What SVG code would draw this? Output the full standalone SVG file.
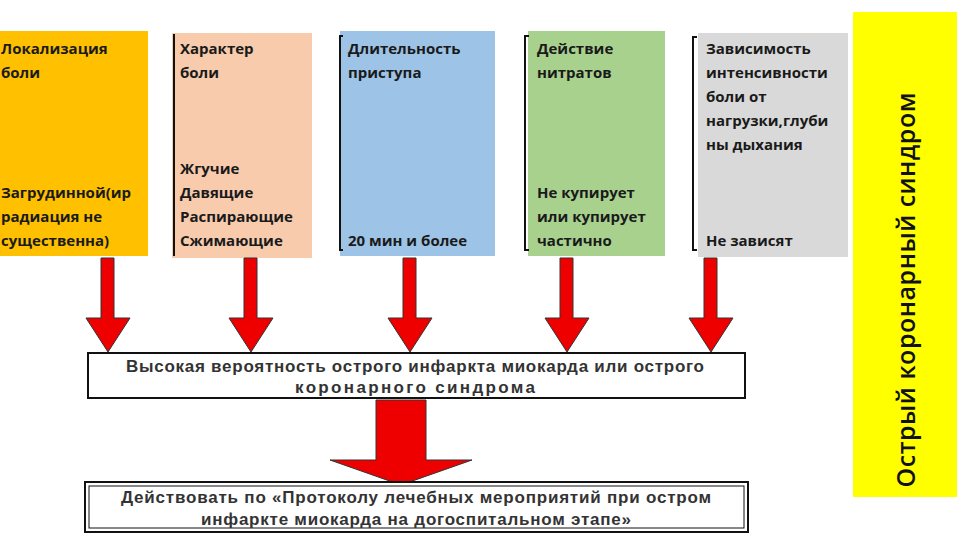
<svg xmlns="http://www.w3.org/2000/svg" width="960" height="540" viewBox="0 0 960 540">
<style>
.t{font-family:"Open Sans","Liberation Sans",sans-serif;font-weight:bold;font-size:15px;fill:#1a1a1a}
.b{font-family:"Liberation Sans",sans-serif;font-weight:bold;font-size:17px;fill:#333}
.br{fill:none;stroke:#111;stroke-width:2}
.ar{fill:#ee0000;stroke:#333;stroke-width:1}
</style>
<rect width="960" height="540" fill="#fff"/>
<g id="n1"><rect x="0" y="31" width="148" height="225" fill="#FFC000"/>
<text class="t"><tspan y="54" x="1">Локализация</tspan><tspan y="78" x="1">боли</tspan><tspan y="198" x="1">Загрудинной(ир</tspan><tspan y="222" x="1">радиация не</tspan><tspan y="246" x="1">существенна)</tspan></text></g>
<g id="n2"><rect x="172" y="33" width="140" height="225" fill="#F8CBAD"/><path class="br" d="M174 34V256"/>
<text class="t"><tspan y="54" x="180">Характер</tspan><tspan y="78" x="180">боли</tspan><tspan y="174" x="180">Жгучие</tspan><tspan y="198" x="180">Давящие</tspan><tspan y="222" x="180">Распирающие</tspan><tspan y="246" x="180">Сжимающие</tspan></text></g>
<g id="n3"><rect x="340" y="31" width="155" height="225" fill="#9DC3E6"/><path class="br" d="M343 36H340V250H343"/>
<text class="t"><tspan y="54" x="348">Длительность</tspan><tspan y="78" x="348">приступа</tspan><tspan y="246" x="348">20 мин и более</tspan></text></g>
<g id="n4"><rect x="528" y="31" width="137" height="225" fill="#A9D18E"/><path class="br" d="M529 36H525V250H529"/>
<text class="t"><tspan y="54" x="537">Действие</tspan><tspan y="78" x="537">нитратов</tspan><tspan y="198" x="537">Не купирует</tspan><tspan y="222" x="537">или купирует</tspan><tspan y="246" x="537">частично</tspan></text></g>
<g id="n5"><rect x="698" y="33" width="150" height="224" fill="#D9D9D9"/><path class="br" d="M697 37H693V250H697"/>
<text class="t"><tspan y="54" x="706">Зависимость</tspan><tspan y="78" x="706">интенсивности</tspan><tspan y="102" x="706">боли от</tspan><tspan y="126" x="706">нагрузки,глуби</tspan><tspan y="150" x="706">ны дыхания</tspan><tspan y="246" x="706">Не зависят</tspan></text></g>
<g id="side"><rect x="853" y="12" width="104" height="485" fill="#FFFF00"/>
<text transform="translate(915 290) rotate(-90)" text-anchor="middle" textLength="395" style="font-family:'Open Sans','Liberation Sans',sans-serif;font-size:25px;font-weight:600;fill:#111">Острый коронарный синдром</text></g>
<g id="connectors">
<path class="ar" d="M101 258h13v60h16l-22 34l-22-34h15z"/>
<path class="ar" d="M244 258h13v60h16l-22 34l-22-34h15z"/>
<path class="ar" d="M403 258h13v60h16l-22 34l-22-34h15z"/>
<path class="ar" d="M560 258h13v60h16l-22 34l-22-34h15z"/>
<path class="ar" d="M704 258h13v60h16l-22 34l-22-34h15z"/>
<path class="ar" d="M376 400h50v60h46l-71 25l-71-25h46z"/>
</g>
<g id="box1"><rect x="88" y="353" width="657" height="45" fill="#fff" stroke="#111" stroke-width="2"/>
<text class="b" text-anchor="middle"><tspan x="415" y="372" textLength="578">Высокая вероятность острого инфаркта миокарда или острого</tspan><tspan x="415" y="393" textLength="240">коронарного синдрома</tspan></text></g>
<g id="box2"><rect x="85" y="482" width="663" height="50" fill="#fff" stroke="#111" stroke-width="2"/><rect x="89" y="486" width="655" height="42" fill="none" stroke="#111" stroke-width="1"/>
<text class="b" text-anchor="middle"><tspan x="416" y="503" textLength="590">Действовать по «Протоколу лечебных мероприятий при остром</tspan><tspan x="416" y="525" textLength="430">инфаркте миокарда на догоспитальном этапе»</tspan></text></g>
</svg>
